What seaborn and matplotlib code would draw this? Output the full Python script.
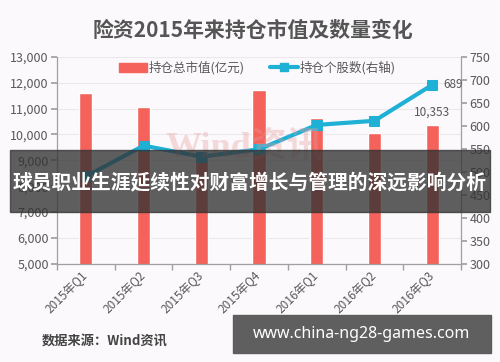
import numpy as np
import pandas as pd
import matplotlib
matplotlib.use("Agg")
import matplotlib.pyplot as plt
import seaborn as sns
from matplotlib.patches import Rectangle, Patch
from matplotlib.lines import Line2D
from matplotlib.ticker import FuncFormatter, MultipleLocator

# data
quarters = ["2015年Q1", "2015年Q2", "2015年Q3", "2015年Q4", "2016年Q1", "2016年Q2", "2016年Q3"]
market_value = [11600, 11080, 9150, 11720, 10650, 10050, 10353]  # 亿元, left axis
stock_count = [490, 557, 533, 549, 602, 611, 689]  # right axis

bar_color = "#f4625b"
line_color = "#1fb0d6"
text_gray = "#595959"

sns.set_theme(style="white")
plt.rcParams['font.family'] = ['Noto Sans CJK SC', 'DejaVu Sans']

df = pd.DataFrame({"quarter": quarters, "value": market_value, "count": stock_count})
df["pos"] = np.arange(len(quarters))

fig = plt.figure(figsize=(5, 3.62), dpi=100)
fig.patch.set_facecolor("#fbf9fb")
ax = fig.add_axes([0.114, 0.271, 0.808, 0.572])
ax.set_facecolor("#fbf9fb")

sns.barplot(data=df, x="quarter", y="value", color=bar_color, saturation=1,
            width=0.23, ax=ax, zorder=2)
ax.set_ylim(5000, 13000)
ax.yaxis.set_major_locator(MultipleLocator(1000))
ax.yaxis.set_major_formatter(FuncFormatter(lambda v, p: f"{int(v):,}"))
ax.yaxis.grid(True, color="#ebe8eb", lw=0.8, zorder=0)
ax.set_axisbelow(True)
ax.set_xlabel("")
ax.set_ylabel("")

ax2 = ax.twinx()
sns.lineplot(data=df, x="pos", y="count", ax=ax2, color=line_color, lw=3,
             marker="s", markersize=7.5, markeredgecolor=line_color, sort=False)
ax2.set_ylim(300, 750)
ax2.yaxis.set_major_locator(MultipleLocator(50))
ax2.set_ylabel("")
ax2.set_xlabel("")
ax.set_xlim(-0.5, len(quarters) - 0.5)

for a in (ax, ax2):
    a.spines["top"].set_visible(False)
    for s in ("left", "right", "bottom"):
        a.spines[s].set_color("#a0a0a0")
        a.spines[s].set_linewidth(0.9)
ax.spines["right"].set_visible(False)
ax2.spines["left"].set_visible(False)
ax2.spines["bottom"].set_visible(False)

ax.tick_params(axis="y", left=True, length=4, color="#a0a0a0", labelsize=9,
               labelcolor=text_gray, pad=2)
ax2.tick_params(axis="y", right=True, length=4, color="#a0a0a0", labelsize=9,
                labelcolor=text_gray, pad=2)
ax.set_xticks(df["pos"])
ax.set_xticklabels(quarters, rotation=45, ha="right", va="center",
                   rotation_mode="anchor", fontsize=8.5, color=text_gray)
ax.set_xticks(np.arange(-0.5, len(quarters)), minor=True)
ax.tick_params(axis="x", which="major", length=0, pad=7)
ax.tick_params(axis="x", which="minor", bottom=True, length=4, color="#a0a0a0")

# value labels
ax.annotate(f"{market_value[-1]:,}", (df["pos"].iloc[-1], market_value[-1]),
            xytext=(0, 5), textcoords="offset points", ha="center", va="bottom",
            fontsize=8.5, color=text_gray)
ax2.annotate(f"{stock_count[-1]}", (df["pos"].iloc[-1], stock_count[-1]),
             xytext=(8, 0), textcoords="offset points", ha="left", va="center",
             fontsize=8.5, color=text_gray)

# legend
handles = [Patch(color=bar_color),
           Line2D([0], [0], color=line_color, lw=3, marker="s", markersize=6)]
fig.legend(handles, ["持仓总市值(亿元)", "持仓个股数(右轴)"], loc="center",
           bbox_to_anchor=(0.515, 0.812), ncol=2, frameon=False, fontsize=9,
           handlelength=2.2, handletextpad=0.2, columnspacing=2.0,
           labelcolor=text_gray)

# faint watermark
fig.text(0.49, 0.59, "Wind资讯", fontsize=26, color="#e89a9a", alpha=0.35,
         ha="center", va="center", fontweight="bold",
         family=["Liberation Serif", "Noto Sans CJK SC"])

# title and source
fig.text(0.506, 0.917, "险资2015年来持仓市值及数量变化", fontsize=15,
         fontweight="bold", color="#555555", ha="center", va="center")
fig.text(0.084, 0.058, "数据来源：Wind资讯", fontsize=9.5, fontweight="bold",
         color="#444444", ha="left", va="center")

# overlay banner
fig.add_artist(Rectangle((0.02, 1 - 212 / 362), 0.96, 62 / 362,
                         transform=fig.transFigure, color="#333333",
                         alpha=0.78, zorder=10))
fig.text(0.5, 1 - 182 / 362, "球员职业生涯延续性对财富增长与管理的深远影响分析",
         fontsize=14.2, fontweight="bold", color="white", ha="center",
         va="center", zorder=11)

# bottom site banner
fig.add_artist(Rectangle((0.466, 1 - 353 / 362), 0.516, 38 / 362,
                         transform=fig.transFigure, color="#5a5a5a",
                         alpha=0.97, zorder=10))
fig.text(0.724, 1 - 334 / 362, "www.china-ng28-games.com", fontsize=11.5,
         fontweight="bold", color="white", ha="center", va="center",
         family=["Noto Sans", "DejaVu Sans"], zorder=11)

fig.savefig("out.png", dpi=100, facecolor=fig.get_facecolor())
